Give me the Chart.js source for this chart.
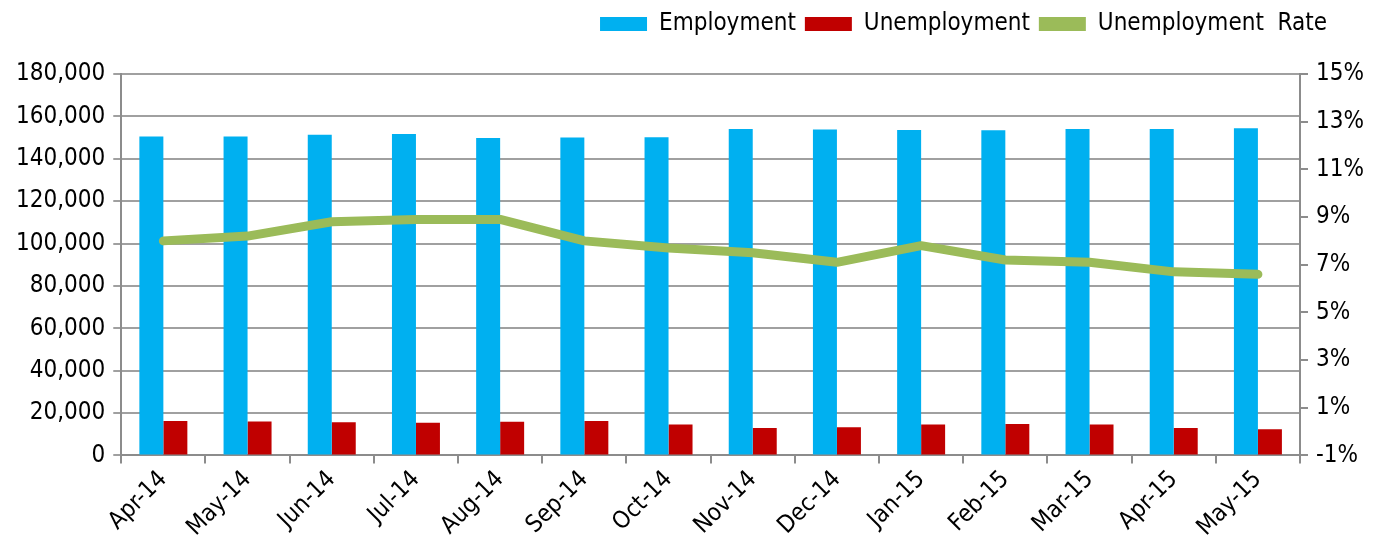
<!DOCTYPE html>
<html lang="en">
<head>
  <meta charset="UTF-8">
  <title>Employment</title>
  <script src="https://cdn.jsdelivr.net/npm/chart.js@4.4.0/dist/chart.umd.min.js"></script>
  <style>
    body { margin: 0; background: #fff; }
  </style>
</head>
<script>
  const months = ["Apr-14", "May-14", "Jun-14", "Jul-14", "Aug-14", "Sep-14", "Oct-14",
    "Nov-14", "Dec-14", "Jan-15", "Feb-15", "Mar-15", "Apr-15", "May-15"];
  const employment = [150500, 150500, 151300, 151700, 149800, 150000, 150200,
    154100, 153800, 153600, 153500, 154000, 154000, 154400];
  const unemployment = [16200, 16000, 15700, 15400, 15900, 16200, 14600,
    13000, 13300, 14600, 14800, 14600, 12900, 12400];
  const rate = [8.0, 8.2, 8.8, 8.9, 8.9, 8.0, 7.7, 7.5, 7.1, 7.8, 7.2, 7.1, 6.7, 6.6];

  // legend sits high and a bit in from the right edge
  const legendGap = {
    id: "legendGap",
    beforeInit(chart) {
      const fit = chart.legend.fit;
      chart.legend.fit = function () {
        fit.bind(chart.legend)();
        this.height += 28;
      };
    },
    afterLayout(chart) {
      chart.legend.right -= 36;
    }
  };

  window.onload = () => {
    const font = { family: "'Liberation Sans Narrow', 'DejaVu Sans Condensed', sans-serif", size: 24 };
    const gray = "#8c8c8c";
    new Chart(document.getElementById("chart"), {
      type: "bar",
      data: {
        labels: months,
        datasets: [{
          label: "Employment",
          data: employment,
          backgroundColor: "#00b0f0",
          yAxisID: "y",
          order: 2
        }, {
          label: "Unemployment",
          data: unemployment,
          backgroundColor: "#c00000",
          yAxisID: "y",
          order: 2
        }, {
          type: "line",
          label: "Unemployment  Rate",
          data: rate,
          borderColor: "#9bbb59",
          backgroundColor: "#9bbb59",
          borderWidth: 9,
          pointRadius: 0,
          borderCapStyle: "round",
          borderJoinStyle: "round",
          tension: 0,
          yAxisID: "y1",
          order: 1
        }]
      },
      plugins: [legendGap],
      options: {
        responsive: false,
        animation: false,
        events: [],
        layout: { padding: { left: 8, right: 16, top: 3, bottom: 6 } },
        datasets: {
          bar: { categoryPercentage: 0.57, barPercentage: 1.0 }
        },
        plugins: {
          tooltip: { enabled: false },
          legend: {
            position: "top",
            align: "end",
            labels: {
              color: "#000",
              font: font,
              boxWidth: 47,
              boxHeight: 14,
              padding: 9,
              generateLabels: (chart) => chart.data.datasets.map((ds, i) => ({
                text: ds.label,
                fillStyle: ds.backgroundColor,
                strokeStyle: ds.backgroundColor,
                lineWidth: 0,
                datasetIndex: i
              }))
            }
          }
        },
        scales: {
          x: {
            grid: { drawOnChartArea: false, color: gray, lineWidth: 2, tickLength: 8, offset: true },
            border: { color: gray, width: 2 },
            ticks: { color: "#000", font: font, minRotation: 45, maxRotation: 45, padding: 2 }
          },
          y: {
            position: "left",
            min: 0,
            max: 180000,
            grid: { color: "#a0a0a0", lineWidth: 2, tickLength: 8 },
            border: { color: gray, width: 2 },
            ticks: {
              stepSize: 20000,
              color: "#000",
              font: font,
              padding: 8,
              callback: v => v.toLocaleString("en-US")
            }
          },
          y1: {
            position: "right",
            min: -1,
            max: 15,
            grid: { drawOnChartArea: false, color: gray, lineWidth: 2, tickLength: 8 },
            border: { color: gray, width: 2 },
            ticks: {
              stepSize: 2,
              color: "#000",
              font: font,
              padding: 8,
              callback: v => v + "%"
            }
          }
        }
      }
    });
  };
</script>
<body>
  <canvas id="chart" width="1388" height="550"></canvas>
</body>
</html>
